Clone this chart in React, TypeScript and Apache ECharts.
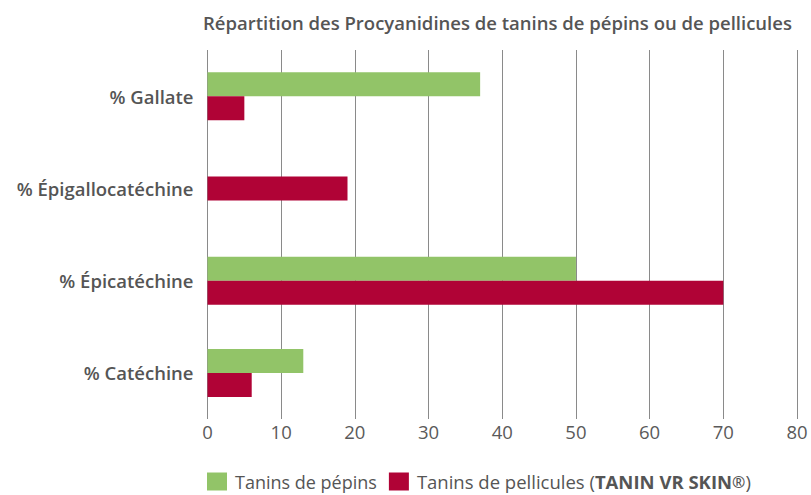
import React, { useEffect, useRef } from "react";
import * as echarts from "echarts";

const categories = ["% Gallate", "% Épigallocatéchine", "% Épicatéchine", "% Catéchine"];
const pepinsValues = [37, "-", 50, 13];
const pelliculesValues = [5, "-", 70, 6];
// Épigallocatéchine has only the skin value, drawn centred in its band
const pelliculesSoloValues = ["-", 19, "-", "-"];
const xTicks = { min: 0, max: 80, interval: 10 };
const seriesNames = ["Tanins de pépins", "Tanins de pellicules"];
const titleText = "Répartition des Procyanidines de tanins de pépins ou de pellicules";

const GREEN = "#92C468";
const RED = "#B00336";
const TEXT = "#555555";
const FONT = "Open Sans";

export default function App() {
  const ref = useRef<HTMLDivElement>(null);
  useEffect(() => {
    if (!ref.current) return;
    const chart = echarts.init(ref.current, null, { renderer: "svg" });
    chart.setOption({
      animation: false,
      textStyle: { fontFamily: FONT },
      title: {
        text: titleText,
        left: 198,
        top: 8,
        textStyle: { fontFamily: FONT, fontSize: 18.5, fontWeight: 600, color: TEXT },
      },
      legend: {
        left: 202,
        top: 467,
        itemWidth: 20,
        itemHeight: 18,
        itemGap: 12,
        icon: "rect",
        data: seriesNames,
        textStyle: {
          fontFamily: FONT,
          fontSize: 18,
          color: TEXT,
          padding: [0, 0, 0, 3],
          rich: {
            n: { fontFamily: FONT, fontSize: 18, color: TEXT },
            w: { fontFamily: FONT, fontSize: 18.5, color: TEXT },
            b: { fontFamily: FONT, fontSize: 18.5, color: TEXT, fontWeight: 700 },
            s: { fontFamily: FONT, fontSize: 16, color: TEXT, fontWeight: 600 },
          },
        },
        formatter: (name: string) =>
          name === seriesNames[1]
            ? "{w|" + name + " (}{b|TANIN VR SKIN}{s|®}{w|)}"
            : "{n|" + name + "}",
      },
      grid: { left: 207.5, right: 14, top: 50, bottom: 76, containLabel: false },
      xAxis: {
        type: "value",
        min: xTicks.min,
        max: xTicks.max,
        interval: xTicks.interval,
        axisLine: { show: false },
        axisTick: { show: false },
        splitLine: { show: true, lineStyle: { color: "#8a8a8a", width: 1 } },
        axisLabel: { fontFamily: FONT, fontSize: 18.5, fontWeight: 400, color: "#5a5a5a", margin: 3 },
      },
      yAxis: [
        {
          type: "category",
          data: categories,
          inverse: true,
          axisLine: { show: false },
          axisTick: { show: false },
          axisLabel: { fontFamily: FONT, fontSize: 18.5, fontWeight: 600, color: TEXT, margin: 14 },
        },
        {
          type: "category",
          data: categories,
          inverse: true,
          show: false,
          position: "left",
        },
      ],
      series: [
        {
          name: seriesNames[0],
          type: "bar",
          yAxisIndex: 0,
          data: pepinsValues,
          barWidth: 24,
          barGap: "0%",
          itemStyle: { color: GREEN },
        },
        {
          name: seriesNames[1],
          type: "bar",
          yAxisIndex: 0,
          data: pelliculesValues,
          barWidth: 24,
          barGap: "0%",
          itemStyle: { color: RED },
        },
        {
          name: seriesNames[1],
          type: "bar",
          yAxisIndex: 1,
          data: pelliculesSoloValues,
          barWidth: 24,
          itemStyle: { color: RED },
        },
      ],
    });
    return () => chart.dispose();
  }, []);
  return <div ref={ref} style={{ width: 811, height: 495, position: "absolute", left: 0, top: 0 }} />;
}
